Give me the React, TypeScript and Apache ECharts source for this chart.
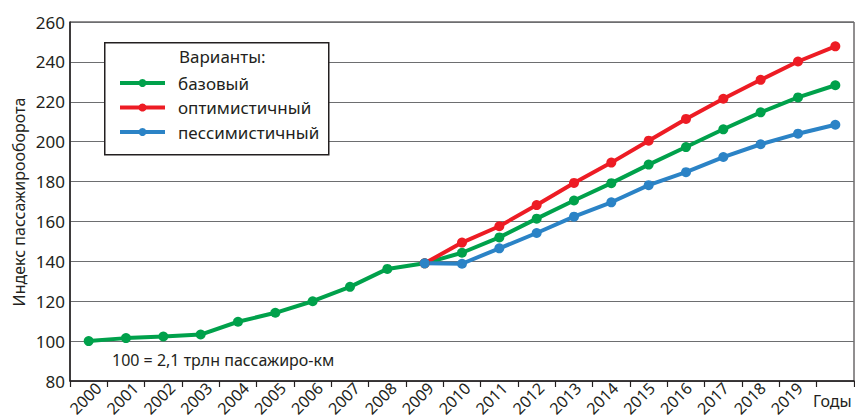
import React, { useEffect, useRef } from "react";
import * as echarts from "echarts";

const years = ["2000","2001","2002","2003","2004","2005","2006","2007","2008","2009","2010","2011","2012","2013","2014","2015","2016","2017","2018","2019","2020"];
const yearLabels = ["2000","2001","2002","2003","2004","2005","2006","2007","2008","2009","2010","2011","2012","2013","2014","2015","2016","2017","2018","2019",""];
const baseName = "базовый";
const optName = "оптимистичный";
const pessName = "пессимистичный";
const baseValues = [100, 101.5, 102.3, 103.3, 109.7, 114.2, 120, 127.2, 136.2, 139, 144.3, 152, 161.4, 170.5, 179.2, 188.5, 197.3, 206.2, 214.7, 222.2, 228.3];
const optValues = [null, null, null, null, null, null, null, null, null, 139, 149.4, 157.6, 168.2, 179.3, 189.5, 200.5, 211.4, 221.5, 231, 240.2, 247.8];
const pessValues = [null, null, null, null, null, null, null, null, null, 139, 138.8, 146.5, 154.2, 162.4, 169.6, 178.2, 184.7, 192.3, 198.7, 204, 208.5];
const yMin = 80;
const yMax = 260;
const yStep = 20;
const yTitle = "Индекс пассажирооборота";
const legendTitle = "Варианты:";
const note = "100 = 2,1 трлн пассажиро-км";
const xTitle = "Годы";

const GREEN = "#00a14b";
const RED = "#ed1c24";
const BLUE = "#2b83c6";
const INK = "#231f20";
const FONT = "Noto Sans";

export default function App() {
  const ref = useRef<HTMLDivElement>(null);
  useEffect(() => {
    if (!ref.current) return;
    const chart = echarts.init(ref.current, undefined, { renderer: "svg" });
    const mkSeries = (name: string, data: any[], color: string) => ({
      name,
      type: "line",
      xAxisIndex: 0,
      yAxisIndex: 0,
      data,
      color,
      symbol: "circle",
      symbolSize: 10,
      showSymbol: true,
      connectNulls: false,
      lineStyle: { width: 4, color },
      itemStyle: { color },
      emphasis: { disabled: true },
    });
    chart.setOption({
      animation: false,
      textStyle: { fontFamily: FONT },
      grid: [
        { left: 70, right: 1, top: 22, bottom: 38, show: true, borderColor: INK, borderWidth: 1, containLabel: false },
        { left: 80, right: -9, top: 22, bottom: 38, show: false, containLabel: false },
      ],
      xAxis: [
        {
          type: "category",
          gridIndex: 0,
          data: years,
          boundaryGap: true,
          axisLine: { show: true, lineStyle: { color: INK, width: 1.5 } },
          axisTick: { show: true, interval: 0, length: 6, lineStyle: { color: INK, width: 1.2 } },
          axisLabel: { show: false },
          splitLine: { show: false },
        },
        {
          type: "category",
          gridIndex: 1,
          data: yearLabels,
          boundaryGap: true,
          axisLine: { show: false },
          axisTick: { show: false },
          axisLabel: { show: true, interval: 0, rotate: 45, margin: 10, fontSize: 16, color: INK, fontFamily: FONT, hideOverlap: false },
          splitLine: { show: false },
        },
      ],
      yAxis: [
        {
          type: "value",
          gridIndex: 0,
          min: yMin,
          max: yMax,
          interval: yStep,
          axisLine: { show: true, lineStyle: { color: INK, width: 1.5 } },
          axisTick: { show: false },
          axisLabel: { fontSize: 17, color: INK, margin: 5, fontFamily: FONT },
          splitLine: { show: true, lineStyle: { color: "#6d6e70", width: 1 } },
        },
        {
          type: "value",
          gridIndex: 1,
          min: yMin,
          max: yMax,
          interval: yStep,
          show: false,
        },
      ],
      legend: {
        show: true,
        orient: "vertical",
        left: 104,
        top: 42,
        padding: [31, 10, 10, 14],
        itemWidth: 45,
        itemHeight: 10,
        itemGap: 4.5,
        selectedMode: false,
        data: [baseName, optName, pessName],
        textStyle: { fontSize: 17, color: INK, fontFamily: FONT, lineHeight: 20, padding: [0, 0, 0, 8] },
        lineStyle: { width: 4 },
        z: 10,
      },
      graphic: [
        {
          type: "rect",
          left: 104,
          top: 42,
          shape: { width: 224, height: 112 },
          style: { fill: "#fff", stroke: INK, lineWidth: 1.5 },
          z: 5,
        },
        {
          type: "text",
          left: 179,
          top: 48,
          style: { text: legendTitle, fontSize: 17, fill: INK, fontFamily: FONT },
          z: 11,
        },
        {
          type: "text",
          left: 112,
          top: 352,
          style: { text: note, fontSize: 16, fill: INK, fontFamily: FONT },
          z: 11,
        },
        {
          type: "text",
          left: 813,
          top: 393,
          style: { text: xTitle, fontSize: 16, fill: INK, fontFamily: FONT },
          z: 11,
        },
        {
          type: "text",
          x: 19,
          y: 202,
          rotation: Math.PI / 2,
          style: { text: yTitle, fontSize: 16, fill: INK, fontFamily: FONT, align: "center", verticalAlign: "middle" },
          z: 11,
        },
      ],
      series: [
        mkSeries(baseName, baseValues, GREEN),
        mkSeries(optName, optValues, RED),
        mkSeries(pessName, pessValues, BLUE),
      ],
    });
    return () => chart.dispose();
  }, []);
  return <div ref={ref} style={{ width: 855, height: 419, position: "absolute", left: 0, top: 0 }} />;
}
